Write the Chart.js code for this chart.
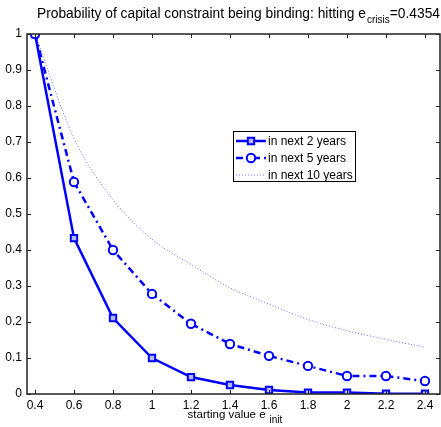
<!DOCTYPE html>
<html>
<head>
<meta charset="utf-8">
<script src="https://cdn.jsdelivr.net/npm/chart.js@4"></script>
<style>
  html, body { margin: 0; padding: 0; background: #fff; overflow: hidden; }
  #box { width: 441px; height: 427px; }
</style>
</head>
<body>
<div id="box"><canvas id="grafico"></canvas></div>
<script>
// data
var startValues = [0.4, 0.6, 0.8, 1.0, 1.2, 1.4, 1.6, 1.8, 2.0, 2.2, 2.4];
var next2 = [1.0, 0.433, 0.211, 0.100, 0.047, 0.025, 0.011, 0.004, 0.004, 0.001, 0.001];
var next5 = [1.0, 0.589, 0.400, 0.278, 0.195, 0.139, 0.106, 0.078, 0.050, 0.050, 0.036];
var next10 = [1.0, 0.71, 0.54, 0.43, 0.36, 0.295, 0.25, 0.207, 0.176, 0.152, 0.13];
var xTicks = [0.4, 0.6, 0.8, 1.0, 1.2, 1.4, 1.6, 1.8, 2.0, 2.2, 2.4];
var yTicks = [0, 0.1, 0.2, 0.3, 0.4, 0.5, 0.6, 0.7, 0.8, 0.9, 1];
var labels = ['in next 2 years', 'in next 5 years', 'in next 10 years'];

var FONT = '"Liberation Sans", Arial, Helvetica, sans-serif';
var BLUE = '#0000ff';

function pts(ys) {
  return startValues.map(function (x, i) { return { x: x, y: ys[i] }; });
}

// text with a subscript, centred on cx
function subText(ctx, pre, sub, post, cx, y, size, subSize, gap) {
  ctx.font = size + 'px ' + FONT;
  var w1 = ctx.measureText(pre).width + gap;
  var w3 = ctx.measureText(post).width;
  ctx.font = subSize + 'px ' + FONT;
  var w2 = ctx.measureText(sub).width;
  var x = cx - (w1 + w2 + w3) / 2;
  ctx.fillStyle = '#000';
  ctx.textAlign = 'left';
  ctx.textBaseline = 'alphabetic';
  ctx.font = size + 'px ' + FONT;
  ctx.fillText(pre, x, y);
  ctx.font = subSize + 'px ' + FONT;
  ctx.fillText(sub, x + w1, y + 5);
  ctx.font = size + 'px ' + FONT;
  ctx.fillText(post, x + w1 + w2, y);
}

var extras = {
  id: 'extras',
  afterDraw: function (chart) {
    var ctx = chart.ctx;
    var a = chart.chartArea;
    var xs = chart.scales.x, ys = chart.scales.y;
    ctx.save();

    // frame
    ctx.strokeStyle = '#222';
    ctx.lineWidth = 1.5;
    ctx.strokeRect(a.left, a.top, a.right - a.left, a.bottom - a.top);

    // inward ticks on all four sides
    ctx.lineWidth = 1;
    ctx.beginPath();
    xTicks.forEach(function (v) {
      var px = Math.round(xs.getPixelForValue(v)) + 0.5;
      ctx.moveTo(px, a.bottom); ctx.lineTo(px, a.bottom - 4);
      ctx.moveTo(px, a.top); ctx.lineTo(px, a.top + 4);
    });
    yTicks.forEach(function (v) {
      var py = Math.round(ys.getPixelForValue(v)) + 0.5;
      ctx.moveTo(a.left, py); ctx.lineTo(a.left + 4, py);
      ctx.moveTo(a.right, py); ctx.lineTo(a.right - 4, py);
    });
    ctx.stroke();

    // title and x label
    subText(ctx, 'Probability of capital constraint being binding: hitting e', 'crisis', '=0.4354', 238.5, 18, 13.8, 10, 1);
    subText(ctx, 'starting value e', 'init', '', 235, 418, 11.5, 10, 4);

    // legend
    var lx = 233, ly = 131, lw = 122, lh = 50;
    ctx.fillStyle = '#fff';
    ctx.fillRect(lx, ly, lw, lh);
    ctx.strokeStyle = '#000';
    ctx.lineWidth = 1;
    ctx.strokeRect(lx + 0.5, ly + 0.5, lw, lh);
    var rows = [141, 158, 175];
    chart.data.datasets.forEach(function (ds) {
      var y = rows[ds.legendRow];
      ctx.save();
      ctx.strokeStyle = ds.borderColor;
      ctx.lineWidth = ds.borderWidth;
      ctx.setLineDash(ds.borderDash || []);
      ctx.beginPath();
      ctx.moveTo(236, y); ctx.lineTo(266, y);
      ctx.stroke();
      ctx.restore();
      if (ds.pointRadius > 0) {
        ctx.save();
        ctx.strokeStyle = ds.pointBorderColor;
        ctx.fillStyle = ds.pointBackgroundColor;
        ctx.lineWidth = ds.pointBorderWidth;
        Chart.helpers.drawPoint(ctx, { pointStyle: ds.pointStyle, radius: ds.pointRadius, rotation: 0, borderWidth: ds.pointBorderWidth }, 251, y);
        ctx.restore();
      }
      ctx.fillStyle = '#000';
      ctx.font = '12px ' + FONT;
      ctx.textBaseline = 'middle';
      ctx.textAlign = 'left';
      ctx.fillText(labels[ds.legendRow], 268, y + 1);
    });
    ctx.restore();
  }
};

var ctx = document.getElementById('grafico');

var chart = new Chart(ctx, {
  type: 'line',
  data: {
    datasets: [
      {
        label: labels[1],
        legendRow: 1,
        order: 0,
        data: pts(next5),
        borderColor: BLUE,
        borderWidth: 2.5,
        borderDash: [7, 4, 2, 4],
        pointStyle: 'circle',
        pointRadius: 4.2,
        pointBorderWidth: 2,
        pointBorderColor: BLUE,
        pointBackgroundColor: '#fff',
        fill: false
      },
      {
        label: labels[0],
        legendRow: 0,
        order: 1,
        data: pts(next2),
        borderColor: BLUE,
        borderWidth: 2.5,
        pointStyle: 'rect',
        pointRadius: 4.5,
        pointBorderWidth: 2,
        pointBorderColor: BLUE,
        pointBackgroundColor: '#b8b8ff',
        fill: false
      },
      {
        label: labels[2],
        legendRow: 2,
        order: 2,
        data: pts(next10),
        borderColor: 'rgba(60,60,255,0.75)',
        borderWidth: 1,
        borderDash: [1, 2],
        pointRadius: 0,
        cubicInterpolationMode: 'monotone',
        fill: false
      }
    ]
  },
  options: {
    responsive: true,
    maintainAspectRatio: false,
    animation: false,
    layout: { autoPadding: false, padding: { top: 34, right: 1, left: 0, bottom: 0 } },
    plugins: {
      legend: { display: false },
      title: { display: false },
      tooltip: { enabled: false }
    },
    scales: {
      x: {
        type: 'linear',
        min: 0.359,
        max: 2.477,
        afterFit: function (s) { s.height = 33; s.paddingLeft = 0; s.paddingRight = 0; },
        afterBuildTicks: function (s) { s.ticks = xTicks.map(function (v) { return { value: v }; }); },
        grid: { display: false, drawTicks: false },
        border: { display: false },
        ticks: {
          padding: 4,
          maxRotation: 0,
          autoSkip: false,
          color: '#000',
          font: { family: FONT, size: 12 },
          callback: function (v) { return String(Math.round(v * 10) / 10); }
        }
      },
      y: {
        min: 0,
        max: 1,
        afterFit: function (s) { s.width = 27; s.paddingTop = 0; s.paddingBottom = 0; },
        afterBuildTicks: function (s) { s.ticks = yTicks.map(function (v) { return { value: v }; }); },
        grid: { display: false, drawTicks: false },
        border: { display: false },
        ticks: {
          padding: 5,
          autoSkip: false,
          color: '#000',
          font: { family: FONT, size: 12 },
          callback: function (v) { return String(Math.round(v * 10) / 10); }
        }
      }
    }
  },
  plugins: [extras]
});
</script>
</body>
</html>
